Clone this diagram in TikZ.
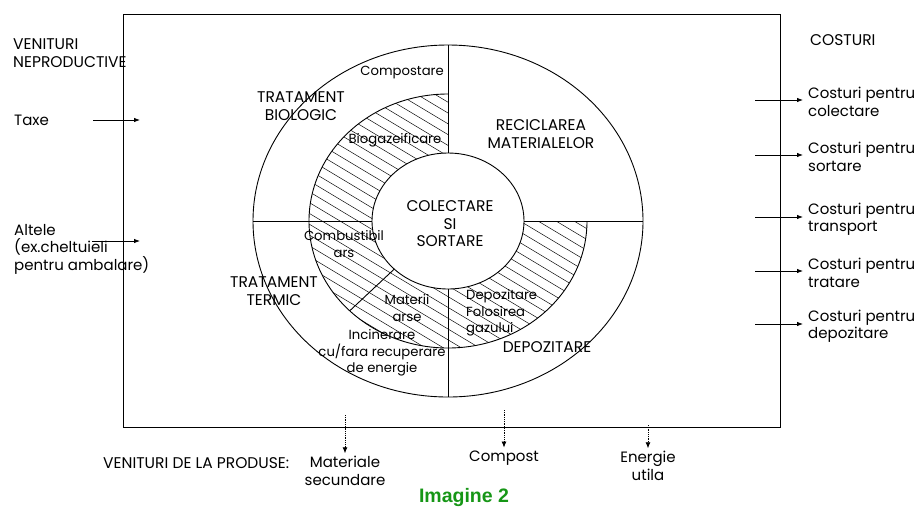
\documentclass[tikz,border=0pt]{standalone}
\usepackage{fontspec}
\setmainfont{Poppins}
\newfontfamily\captfont{Liberation Sans}
\usetikzlibrary{arrows.meta,calc}
\definecolor{captgreen}{RGB}{22,150,22}

\begin{document}
\begin{tikzpicture}[x=1pt, y=-1pt,
  every node/.style = {align=center, inner sep=0pt,
    font=\fontsize{15}{17.5}\selectfont},
  lbl/.style = {align=left, anchor=west},
  caps/.style = {font=\fontsize{15.5}{17.5}\selectfont},
  small/.style = {font=\fontsize{13.2}{16.5}\selectfont},
  inarrow/.style = {-{Latex[length=6pt,width=4.5pt]}, line width=0.8pt},
  outarrow/.style = {densely dotted, -{Latex[length=6pt,width=5pt]}, line width=0.8pt},
  ring/.style = {line width=0.9pt},
  hatch/.style = {line width=0.5pt}]
  \useasboundingbox (0,0) rectangle (921,507);

  % frame
  \draw[line width=0.9pt] (123,14) rectangle (780,427);

  % rings
  \coordinate (ctr) at (448,221);
  \begin{scope}[even odd rule]
    \clip (248,21) -- (448,21) -- (448,221) -- (648,221) -- (648,421) -- (248,421) -- cycle;
    \clip (ctr) ellipse (139 and 127) (ctr) ellipse (76 and 68);
    \foreach \k in {-30,...,30}
      \draw[hatch] ({448+\k*18-300},41) -- ++(600,360);
  \end{scope}
  \draw[ring] (ctr) ellipse (195 and 176);
  \draw[ring] (ctr) ellipse (76 and 68);
  \draw[ring] (587,221) arc (0:270:139 and 127);
  \draw[ring] (253,221) -- (372,221);
  \draw[ring] (524,221) -- (643,221);
  \draw[ring] (448,45) -- (448,153);
  \draw[ring] (448,289) -- (448,397);
  \draw[ring] ($(ctr)+(135:76 and 68)$) -- ($(ctr)+(135:139 and 127)$);

  % labels in the circle
  \node[small, anchor=east] (compostare) at (444,73) {Compostare};
  \node[caps] (tratbio) at (301,106) {TRATAMENT\\BIOLOGIC};
  \node[small] (biogaz) at (395,140) {Biogazeificare};
  \node[caps] (recicl) at (541,134) {RECICLAREA\\MATERIALELOR};
  \node[caps] (colect) at (450,224) {COLECTARE\\SI\\SORTARE};
  \node[small] (combars) at (344,244) {Combustibil\\ars};
  \node[caps] (tratterm) at (274,291) {TRATAMENT\\TERMIC};
  \node[small] (materii) at (407,308) {Materii\\arse};
  \node[small] (incin) at (382,353) {Incinerare\\cu/fara recuperare\\de energie};
  \node[small, lbl] (depgaz) at (466,313) {Depozitare\\Folosirea\\gazului};
  \node[caps] (depoz) at (547,347) {DEPOZITARE};

  % left side
  \node[lbl, caps] (venneprod) at (13,53) {VENITURI\\NEPRODUCTIVE};
  \node[lbl] (taxe) at (14,120) {Taxe};
  \node[lbl] (altele) at (14,249) {Altele\\(ex.cheltuieli\\pentru ambalare)};
  \coordinate (taxe-in) at (140,120);
  \coordinate (altele-in) at (140,241);
  \draw[inarrow] ([xshift=44pt]taxe.east) -- (taxe-in);
  \draw[inarrow] (92,241) -- (altele-in);

  % right side
  \node[lbl, caps] (costuri) at (810,40) {COSTURI};
  \foreach \name/\y in {colectare/102, sortare/157, transport/219,
      tratare/273, depozitare/326} {
    \node[lbl] (c\name) at (808,\y) {Costuri pentru\\\name};
    \coordinate (s\name) at (755,{\y-2});
    \draw[inarrow] (s\name) -- ([xshift=-5pt,yshift=2pt]c\name.west);
  }

  % bottom
  \node[lbl, caps] (venprod) at (103,463) {VENITURI DE LA PRODUSE:};
  \node (matsec) at (345,471) {Materiale\\secundare};
  \node (compost) at (504,458) {Compost};
  \node (energie) at (648,466) {Energie\\utila};
  \coordinate (matsec-src) at (345,415);
  \coordinate (compost-src) at (504,410);
  \coordinate (energie-src) at (648,425);
  \draw[outarrow] (matsec-src) -- ([yshift=3pt]matsec.north);
  \draw[outarrow] (compost-src) -- ([yshift=3pt]compost.north);
  \draw[outarrow] (energie-src) -- ([yshift=3pt]energie.north);

  \node[font=\captfont\bfseries\fontsize{19.5}{21}\selectfont, text=captgreen]
    (capt) at (464,497) {Imagine 2};
\end{tikzpicture}
\end{document}
